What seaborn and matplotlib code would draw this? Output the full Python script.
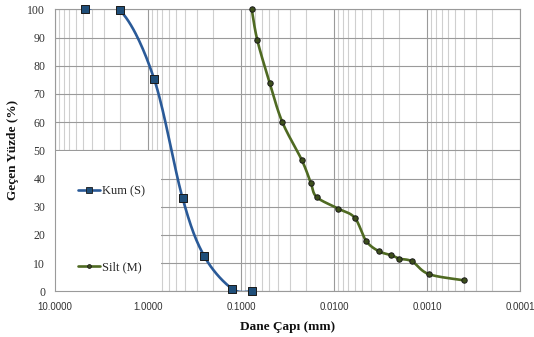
import numpy as np
import pandas as pd
import matplotlib
matplotlib.use("Agg")
import matplotlib.pyplot as plt
import seaborn as sns
from matplotlib.lines import Line2D
from matplotlib.patches import Rectangle
from matplotlib.ticker import FixedLocator, LogLocator, NullFormatter

# ---- data ----
kum_d = [4.75, 2.0, 0.86, 0.425, 0.25, 0.125, 0.076]
kum_p = [100.0, 99.6, 75.3, 33.0, 12.6, 0.9, 0.0]

silt_d = [0.0767, 0.0668, 0.0491, 0.036, 0.0222, 0.0178, 0.01535, 0.0090,
          0.0060, 0.00453, 0.0033, 0.00242, 0.0020, 0.00145, 0.00096, 0.000403]
silt_p = [100.0, 89.0, 73.8, 60.0, 46.5, 38.5, 33.4, 29.3,
          26.1, 17.9, 14.2, 12.8, 11.6, 10.6, 6.1, 3.9]

x_ticks = [10, 1, 0.1, 0.01, 0.001, 0.0001]
x_tick_labels = ["10.0000", "1.0000", "0.1000", "0.0100", "0.0010", "0.0001"]
y_ticks = list(range(0, 101, 10))

series_names = ["Kum (S)", "Silt (M)"]
line_colors = ["#2a5a98", "#4f6a22"]
marker_faces = ["#1f4e79", "#3d4f1c"]


def smooth(xs, ys, n=30):
    """Excel-style smoothed curve (Catmull-Rom Bezier) in log10(x) space."""
    lx = np.log10(np.asarray(xs, float))
    y = np.asarray(ys, float)
    P = np.column_stack([lx, y])
    out = []
    m = len(P)
    for i in range(m - 1):
        p0 = P[i - 1] if i > 0 else P[i]
        p1 = P[i]
        p2 = P[i + 1]
        p3 = P[i + 2] if i + 2 < m else P[i + 1]
        c1 = p1 + (p2 - p0) / 6.0
        c2 = p2 - (p3 - p1) / 6.0
        t = np.linspace(0, 1, n)[:, None]
        seg = ((1 - t) ** 3) * p1 + 3 * ((1 - t) ** 2) * t * c1 + 3 * (1 - t) * t ** 2 * c2 + t ** 3 * p2
        out.append(seg if i == 0 else seg[1:])
    S = np.vstack(out)
    return 10 ** S[:, 0], S[:, 1]


sns.set_theme(style="white")
plt.rcParams["font.family"] = ["Liberation Serif", "DejaVu Serif"]

fig = plt.figure(figsize=(5.34, 3.37), dpi=100)
ax = fig.add_axes([0.103, 0.1356, 0.871, 0.8368])

ax.set_xscale("log")
ax.set_xlim(10, 0.0001)
ax.set_ylim(0, 100)

# grid
ax.set_axisbelow(True)
ax.xaxis.set_major_locator(FixedLocator(x_ticks))
ax.xaxis.set_minor_locator(LogLocator(base=10, subs=np.arange(2, 10), numticks=20))
ax.xaxis.set_minor_formatter(NullFormatter())
ax.set_xticklabels(x_tick_labels)
ax.set_yticks(y_ticks)
ax.grid(True, which="major", color="#9a9a9a", linewidth=0.8)
ax.grid(True, which="minor", axis="x", color="#cfcfcf", linewidth=0.8)

for s in ax.spines.values():
    s.set_color("#9a9a9a")
    s.set_linewidth(0.8)

# legend background panel
ax.add_patch(Rectangle((0, 0), 0.228, 0.4975, transform=ax.transAxes,
                       facecolor="white", edgecolor="none", zorder=1.2))

datasets = [(kum_d, kum_p, "s", 5.2), (silt_d, silt_p, "o", 3.9)]
handles = []
for (d, p, mk, ms), name, lc, mf in zip(datasets, series_names, line_colors, marker_faces):
    sx, sy = smooth(d, p)
    sdf = pd.DataFrame({"d": sx, "p": sy})
    sns.lineplot(data=sdf, x="d", y="p", ax=ax, sort=False, estimator=None,
                 color=lc, linewidth=1.9, zorder=3)
    pdf = pd.DataFrame({"d": d, "p": p})
    sns.scatterplot(data=pdf, x="d", y="p", ax=ax, marker=mk, s=ms ** 2,
                    color=mf, edgecolor="#1a1a1a", linewidth=0.7, zorder=4,
                    clip_on=False)
    handles.append(Line2D([], [], color=lc, linewidth=1.9, marker=mk,
                          markersize=ms * (0.95 if mk == "s" else 0.7),
                          markerfacecolor=mf, markeredgecolor="#1a1a1a",
                          markeredgewidth=0.6, label=name))

leg = ax.legend(handles=handles, loc="upper left", bbox_to_anchor=(0.036, 0.397),
                frameon=False, borderpad=0, handlelength=1.8, handletextpad=0.15,
                labelspacing=5.1, prop={"family": "Liberation Serif", "size": 9})
leg.set_zorder(5)

for lab in ax.get_xticklabels():
    lab.set_fontfamily(["Liberation Sans", "DejaVu Sans"])
    lab.set_fontsize(7)
    lab.set_color("#333333")
for lab in ax.get_yticklabels():
    lab.set_fontfamily(["Liberation Serif", "DejaVu Serif"])
    lab.set_fontsize(8.5)
    lab.set_color("#333333")
ax.tick_params(axis="both", which="both", length=0)
ax.tick_params(axis="x", pad=8)
ax.tick_params(axis="y", pad=7)

ax.set_xlabel("Dane Çapı (mm)", fontsize=9.5, fontweight="bold", labelpad=6, color="#111111")
ax.set_ylabel("Geçen Yüzde (%)", fontsize=9.5, fontweight="bold", labelpad=6, color="#111111")

fig.savefig("out.png", dpi=100)
